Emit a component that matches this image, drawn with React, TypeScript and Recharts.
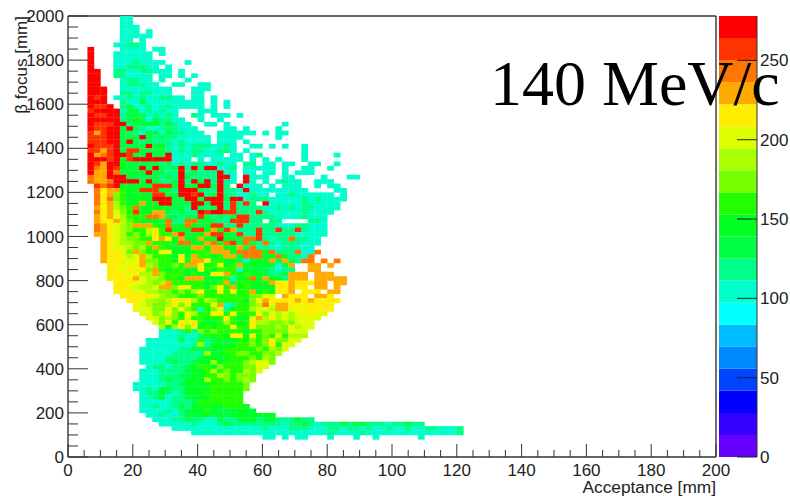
import { Bar, BarChart, ReferenceLine, Scatter, ScatterChart, XAxis, YAxis } from "recharts";

const WIDTH = 790;
const HEIGHT = 496;
const PLOT_LEFT = 68;
const PLOT_RIGHT = 716;
const PLOT_TOP = 16;
const PLOT_BOTTOM = 457;
const FONT = '"Liberation Sans", Arial, sans-serif';
const INK = "#222";

// colour bands of the palette, from the bottom of the z scale to the top
const paletteColors = [
  "#6600ff", "#3300ff", "#0000ff", "#0044ff", "#0088ff",
  "#00bbff", "#00ffff", "#00ffcc", "#00ff88", "#00ff44",
  "#00ff22", "#22ff00", "#77ff00", "#aaff00", "#ddff00",
  "#ffee00", "#ffaa00", "#ff7700", "#ff3300", "#ff0000",
];
const paletteStep = 13.9;
const zTicks = [0, 50, 100, 150, 200, 250];

const xTicks = [
  0, 5, 10, 15, 20, 25, 30, 35, 40, 45, 50, 55, 60, 65, 70, 75, 80, 85, 90, 95, 100,
  105, 110, 115, 120, 125, 130, 135, 140, 145, 150, 155, 160, 165, 170, 175, 180, 185, 190, 195, 200,
];
const yTicks = [
  0, 50, 100, 150, 200, 250, 300, 350, 400, 450, 500, 550, 600, 650, 700, 750, 800, 850, 900, 950, 1000,
  1050, 1100, 1150, 1200, 1250, 1300, 1350, 1400, 1450, 1500, 1550, 1600, 1650, 1700, 1750, 1800, 1850, 1900, 1950, 2000,
];

const binX = 2; // mm per column
const binY = 20; // mm per row

// letter -> palette band
const levelBands: Record<string, number> = {
  C: 6, T: 7, S: 8, E: 9, G: 10, L: 11, M: 12, N: 13, Y: 14, Z: 15, A: 16, O: 17, P: 18, R: 19,
};

// one string per row of the histogram, first row is 1980-2000 mm, one char per 2 mm column
const heatRows = [
  "........TT",
  "........TT",
  "........TTT",
  "........TTT.T",
  "........TTTTT",
  "........TT.T",
  ".......TTSST",
  "...R....TTTT.TT",
  "...R...TTTTTT.T",
  "...R...TTTTTT",
  "...R...TTTSTTTT...T",
  "...R...TTSSSTT.T",
  "...RR..SSTTSSTTT.T",
  "...RR..SSTTTT.TT.T.T",
  "...RR...TSSTT.T...T",
  "...RR...TSSSTT..TT..TT",
  "...RRR..TTTTTTTT...TTT",
  "...RRR..SSTSSTTT...TT",
  "...RPR.TTSTSTTSSTT.TT.T",
  "...RRR..STTETTTTTTTTT.T.T",
  "...RPPR.SETTSTTSTTTTT.T.T",
  "...PRRRRTEETSTSTT...TTT",
  "...RPPRRSEEETSTST..ST.TTT.T",
  "...RRRRRSEGETESSTT..T..T",
  "...RPPPRRSEEGESESTT..TT.T........T",
  "...RPPRRERESTTSSSTTT....TT.T....T",
  "...PAPRREESTEETESSTTT..TTTTTT.T.TT",
  "...PPPRREEERESESSTTTTT.TTTT.....T",
  "...PPPRRERESESSSTSTTTT.TTT.T",
  "...RPPPREEEEREGSTSTSSSTTST..TT.T.T..T",
  "...PPAPREPPEEEESTSTSSTTSST.T........T",
  "...RAOPRRPEEREERTTTSTTTT.TT.TS......T....T",
  "...RRRPRGPRRRRRRTTT.T.TTTTT.T.T.T...T",
  "...RPARRGEEEEESETSTSSTTSTT.SS.TT.TT..TT..T",
  "...ROARPGEERERESERSRSRRTTS.TTTTT.T..TT..T",
  "...RAAROEGGEREESSRSESSSRTT.TT.TT.T.TTT",
  "...OAARRREEEEESESRESSSSRRT.RTTT..TT....T...TT",
  "...OAAORRRRERESSERSRERSRST.RT.T.TSTT..TTT",
  "....POPRGEGGEPPPEREGRRERS.RTTT.T.TTT..T.TT",
  "....OZAALGGPPPEESRRRESSRSSTRTTTTTTTTT....TT",
  "....OZAMLGGGEPPEERRPRSERSSTTSTT.TTSTTTTTT.T",
  "....OZOMLGGGGRRREERRERRRERRTSSSTTTTTSTSTTTT",
  "....OZANLGGAGGRREEERRERRSPSPS.RTTTTTSTTTTT",
  "....AZANMLOGGGGGEESRESERSPSSSSTTSTSTSSTTTT",
  "....OZAYMLPGGAAESESSRPRRPPSSSPSTTTTTSTTTT",
  "....AZAYNLLLOOAEESEEPESESEPPSSSSTTTTSTTT",
  "....AZZANMLGGGEOSSOOEGESSPPPSS.SS....SST",
  "....OAZYNMAAALGOEGOGEGPPSSPSSSSSTTTSSTTT",
  "....OAZYNMLLNZLPGGGPPGAGPASSSPSSPSSPSTTT",
  "....AAZYNLMLNZLLAPEGGAPPEEPSSPSSSSSTTTTT",
  ".....AZYNMMLLZAZGAGGAGGRGGEOOPSTSSOSSTT",
  ".....AZYNNMMALLLGOOGGAOGOPEOESOSTSSSTTT",
  ".....AZYYNMNLALGGGGAAGAAGGAEOSSTTSSTTT",
  ".....AZZYMAMLLZZGGGLLLAAAGOOOOGOSSSOTTO",
  ".....AZZYNYANLLLGZGALLGLAAGOOOGGOGSSTO",
  ".....AZZZYYAMMLLGZLAAZLLGGETGGGAEAESOO.O.O",
  "......ZZYYZANMLLMLAAZGLZGLAGGGGETEA..AA.A",
  "......ZZYZYZMALGLLGGZLGLLLTGGEESTSS..AA",
  "......ZZZYZNNAMLLLGLGGZZALGLGGESSEAAA.AAA",
  "......ZZZZAYNNMLLGAAAGGGLTGGOGAGGSAAA.AAAAA",
  ".......ZZZYYNMNALLLLLGGLAELLGGGAZZAZZZAA.AA",
  ".......ZZYYNNYAAMZZLLGMZLAGLGGGGZZAZZ.AA.A",
  ".......ZZZYYNNMMLMLNZLLZLZLLAGLGZZA.ZZZ.AA",
  "........ZZZZZYNMMLLLMLLLLLLLMMYY.AZZZ.AAZ",
  ".........ZZYNNMNZYZNLNMLLLLGMZAZZZZAZAZZZZ",
  "..........ZYNMMNZMYLLLYATSLLMNOYAAZYZZZZZ",
  "..........YYYMMZMZMLTLMYSGLLNYYNAAYZYZZZZ",
  "...........YYMNZMLYNLLZZLZLLLYMYNYNYZZYY",
  "............YYMNMLYLLGLLZLGGYANZNYNYYYY",
  ".............YMZLZYZLGGLNLGLZNNMMNMYYY",
  "..............NGNZMZGLGLLZLLZMMMNMZNYY",
  "..............TTTSLSMLMLLLLGLLMMMMYYY",
  "..............TTTSTTSLGLGZZGZLMLYLNNN",
  "............TTTTTETSLSEGGGLLMLMZMMYY",
  "............TTTTTTTSNSGGEGLLMLMZLYY",
  "...........TTTTTTSSEEEGGLLLLLMLNMY",
  "...........TTTTTSSSSSNGGLLMMLLMMN",
  "...........TTTTSSSSSEGGGGLLLMLNM",
  "...........TTTTSESSEGGNGLLLMNYYM",
  "............TSSTSSEGLLGMLLLMMYY",
  "...........TTTSSSSEGGLNLMLLNMY",
  "...........TTTSSSEEGGLLNMLMMM",
  "...........TTTSESSGGGNLLMLMNM",
  "..........TTTTTSSEGGGGLLLLLM",
  "..........TTSTEESSGGGGLLLLLM",
  "...........TSSESTSGGGLLLLLL",
  "...........TTSETSSEEGGLLLLL",
  "...........TTTTTSSSELLLLLLL",
  "...........TTSTTSESGGGGGLLLG",
  "...........TTTTSTSEGGLGEEEGGE",
  "............TTSTTSEEGGEGEGGGGGGG",
  ".............TTTSSESSTTESSEGGSEGSSSGSS",
  "..............TTTTTSTTTSESSSSSSSSTSSESTSSSESEESSSTSSESS",
  "................TTTTTTTTTTTTTTSTTTSSSTTTSSTSSTSTTSTTSTTSSTTTS",
  "...................TTTTTTTTTTTTTTTTTTTTTSTTTTSTTTTTTTTTTTTTTS",
  "..............................TT.T.TT...T...T..T......T",
];

const heatCells = heatRows.flatMap((row, rowIndex) =>
  row.split("").flatMap((level, col) =>
    level === "."
      ? []
      : [
          {
            x: col * binX + binX / 2,
            y: (heatRows.length + 3 - rowIndex) * binY + binY / 2,
            fill: paletteColors[levelBands[level]],
          },
        ],
  ),
);

const cellW = ((PLOT_RIGHT - PLOT_LEFT) / 200) * binX;
const cellH = ((PLOT_BOTTOM - PLOT_TOP) / 2000) * binY;

function HeatCell(props: any) {
  const { cx, cy, payload } = props;
  return (
    <rect
      x={cx - cellW / 2}
      y={cy - cellH / 2}
      width={cellW + 0.3}
      height={cellH + 0.3}
      fill={payload.fill}
    />
  );
}

function XTick(props: any) {
  const { x, payload } = props;
  const major = payload.value % 20 === 0;
  return (
    <g>
      <line x1={x} x2={x} y1={PLOT_BOTTOM} y2={PLOT_BOTTOM - (major ? 13 : 7)} stroke="#333" />
      {major && (
        <text x={x} y={476} textAnchor="middle" fontSize={17} fontFamily={FONT} fill={INK}>
          {payload.value}
        </text>
      )}
    </g>
  );
}

function YTick(props: any) {
  const { y, payload } = props;
  const major = payload.value % 200 === 0;
  return (
    <g>
      <line x1={PLOT_LEFT} x2={PLOT_LEFT + (major ? 20 : 10)} y1={y} y2={y} stroke="#333" />
      {major && (
        <text x={64} y={y + 6} textAnchor="end" fontSize={17} fontFamily={FONT} fill={INK}>
          {payload.value}
        </text>
      )}
    </g>
  );
}

function ZTick(props: any) {
  const { y, payload } = props;
  return (
    <g>
      <line x1={737} x2={757} y1={y} y2={y} stroke="#222" />
      <text x={760} y={y + 6} fontSize={17} fontFamily={FONT} fill={INK}>
        {payload.value}
      </text>
    </g>
  );
}

const paletteRow = [
  Object.fromEntries([["name", "z"], ...paletteColors.map((_, i) => [`band${i}`, paletteStep])]),
];

const layer: React.CSSProperties = { position: "absolute", left: 0, top: 0 };

export default function App() {
  return (
    <div style={{ ...layer, width: WIDTH, height: HEIGHT, background: "#fff", overflow: "hidden" }}>
      <div style={layer}>
        <ScatterChart width={WIDTH} height={HEIGHT} margin={{ top: PLOT_TOP, right: WIDTH - PLOT_RIGHT, bottom: 0, left: 0 }}>
          <XAxis
            type="number"
            dataKey="x"
            domain={[0, 200]}
            ticks={xTicks}
            interval={0}
            height={HEIGHT - PLOT_BOTTOM}
            tick={<XTick />}
            tickLine={false}
            axisLine={{ stroke: "#333", strokeWidth: 1.4 }}
          />
          <YAxis
            type="number"
            dataKey="y"
            domain={[0, 2000]}
            ticks={yTicks}
            interval={0}
            width={PLOT_LEFT}
            tick={<YTick />}
            tickLine={false}
            axisLine={{ stroke: "#333", strokeWidth: 1.4 }}
          />
          <Scatter data={heatCells} shape={<HeatCell />} isAnimationActive={false} />
          <ReferenceLine y={2000} stroke="#333" strokeWidth={1.4} />
          <ReferenceLine x={200} stroke="#333" strokeWidth={1.4} />
        </ScatterChart>
      </div>
      <div style={layer}>
        <BarChart
          width={WIDTH}
          height={HEIGHT}
          data={paletteRow}
          barCategoryGap={0}
          margin={{ top: PLOT_TOP, right: 0, bottom: HEIGHT - PLOT_BOTTOM, left: 719 }}
        >
          <XAxis dataKey="name" hide />
          <YAxis
            orientation="right"
            domain={[0, paletteStep * 20]}
            ticks={zTicks}
            interval={0}
            width={33}
            tick={<ZTick />}
            tickLine={false}
            axisLine={{ stroke: "#333" }}
          />
          {paletteColors.map((color, i) => (
            <Bar key={color} dataKey={`band${i}`} stackId="z" fill={color} isAnimationActive={false} />
          ))}
        </BarChart>
      </div>
      <svg width={WIDTH} height={HEIGHT} style={layer}>
        <text x={716} y={493} textAnchor="end" fontSize={17.3} fontFamily={FONT} fill={INK}>
          Acceptance [mm]
        </text>
        <text
          transform="translate(27,16) rotate(-90)"
          textAnchor="end"
          fontSize={17}
          fontFamily={FONT}
          fill={INK}
        >
          β focus [mm]
        </text>
        <text x={490} y={105} fontSize={64} fontFamily='"Liberation Serif", serif' fill="#000">
          140 MeV/c
        </text>
      </svg>
    </div>
  );
}
